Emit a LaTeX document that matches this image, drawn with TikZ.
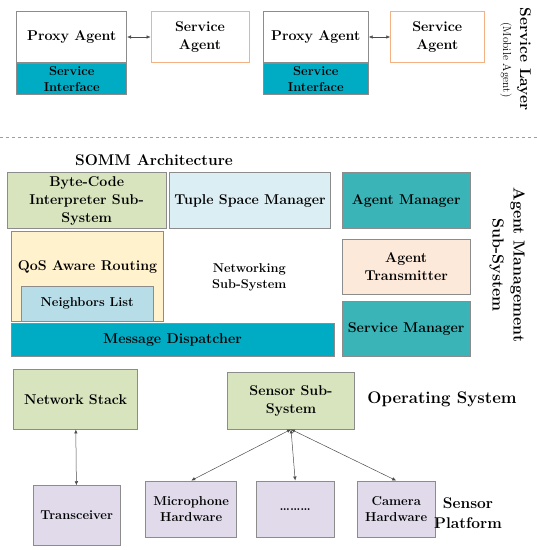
\documentclass[tikz,border=0pt]{standalone}
\usepackage{fontspec}
\usepackage{tikz}
\usetikzlibrary{positioning, arrows.meta}

\definecolor{boxline}{HTML}{8C8C8C}
\definecolor{ifteal}{HTML}{00ACC4}
\definecolor{amteal}{HTML}{3BB4B7}
\definecolor{bcgreen}{HTML}{D7E4BD}
\definecolor{tsblue}{HTML}{DBEEF4}
\definecolor{qosyellow}{HTML}{FFF2CC}
\definecolor{nlblue}{HTML}{B7DEE8}
\definecolor{atpeach}{HTML}{FDE9D9}
\definecolor{hwlilac}{HTML}{E0DAEB}
\definecolor{saorange}{HTML}{F4B183}
\definecolor{dashpink}{HTML}{D4849A}

\tikzset{
    box/.style = {draw=boxline, line width=0.8pt, align=center, inner sep=0pt,
                  font=\bfseries\fontsize{14.2}{18}\selectfont},
    smallbox/.style = {box, font=\bfseries\fontsize{12.9}{16}\selectfont},
    title/.style = {align=center, font=\bfseries\fontsize{15.5}{19}\selectfont},
    link/.style = {arrows={Latex[length=4pt, width=3.5pt]-Latex[length=4pt, width=3.5pt]}, draw=black!70, line width=0.5pt}
}

\begin{document}
\begin{tikzpicture}[x=1pt, y=-1pt]
    \useasboundingbox (0,0) rectangle (537,550);

    % service layer
    \node[box, minimum width=110pt, minimum height=50.6pt, fill=white] (pa1) at (71.7,37) {Proxy Agent};
    \node[smallbox, minimum width=110pt, minimum height=31pt, fill=ifteal, below=0pt of pa1] (si1) {Service\\Interface};
    \node[box, draw=saorange, minimum width=98pt, minimum height=50.6pt] (sa1) at (200,37) {Service\\Agent};
    \node[box, minimum width=105pt, minimum height=50.6pt, fill=white] (pa2) at (315.8,37) {Proxy Agent};
    \node[smallbox, minimum width=105pt, minimum height=31pt, fill=ifteal, below=0pt of pa2] (si2) {Service\\Interface};
    \node[box, draw=saorange, minimum width=93.3pt, minimum height=50.6pt] (sa2) at (437.3,37) {Service\\Agent};
    \node[title, rotate=-90] (sl) at (524,59) {Service Layer};
    \node[font=\fontsize{11.5}{13}\selectfont, rotate=-90] (ma) at (506,60) {(Mobile Agent)};

    \draw[link] (pa1) -- (sa1);
    \draw[link] (pa2) -- (sa2);

    \draw[dashpink, dashed, line width=0.8pt] (0,137.3) -- (537,137.3);

    % SOMM
    \node[title] (somm) at (154,160) {SOMM Architecture};
    \node[box, fill=bcgreen, minimum width=158.7pt, minimum height=55.6pt] (bc) at (86.7,200.5) {Byte-Code\\Interpreter Sub-\\System};
    \node[box, fill=tsblue, minimum width=161.3pt, minimum height=55.6pt] (ts) at (250,200.5) {Tuple Space Manager};
    \node[box, fill=amteal, minimum width=127.7pt, minimum height=55.6pt] (am) at (406.2,200.5) {Agent Manager};
    \node[box, fill=qosyellow, minimum width=151.6pt, minimum height=90pt,
          label={[font=\bfseries\fontsize{14.2}{18}\selectfont, yshift=10pt]center:QoS Aware Routing}] (qos) at (87.5,276.7) {};
    \node[smallbox, fill=nlblue, minimum width=132.3pt, minimum height=35.7pt] (nl) at (87.2,303.8) {Neighbors List};
    \node[font=\bfseries\fontsize{12.8}{16}\selectfont, align=center] (nss) at (249.3,277) {Networking\\Sub-System};
    \node[box, fill=ifteal, minimum width=323pt, minimum height=33.4pt] (md) at (172.5,340) {Message Dispatcher};
    \node[box, fill=atpeach, minimum width=127.7pt, minimum height=55.3pt] (at) at (406.2,266.7) {Agent\\Transmitter};
    \node[box, fill=amteal, minimum width=127.7pt, minimum height=55.7pt] (sm) at (406.2,328.8) {Service Manager};
    \node[title, font=\bfseries\fontsize{16}{21}\selectfont, rotate=-90] (ams) at (507,265) {Agent Management\\Sub-System};

    % operating system and sensor platform
    \node[box, fill=bcgreen, minimum width=124.3pt, minimum height=59.7pt] (ns) at (75.5,399.2) {Network Stack};
    \node[box, fill=bcgreen, minimum width=126.7pt, minimum height=56.3pt] (ss) at (291,400.8) {Sensor Sub-\\System};
    \node[title, font=\bfseries\fontsize{16.8}{19}\selectfont] (os) at (442,399) {Operating System};
    \node[smallbox, fill=hwlilac, minimum width=86.7pt, minimum height=59.3pt] (tr) at (76.7,515.3) {Transceiver};
    \node[smallbox, fill=hwlilac, minimum width=91pt, minimum height=56.7pt] (mh) at (191.2,509.3) {Microphone\\Hardware};
    \node[smallbox, fill=hwlilac, minimum width=78.3pt, minimum height=56.7pt] (dt) at (295.2,509.3) {\dots\dots\dots};
    \node[smallbox, fill=hwlilac, minimum width=77.7pt, minimum height=56.7pt] (ch) at (396.2,509.3) {Camera\\Hardware};
    \node[title, font=\bfseries\fontsize{15.5}{20}\selectfont] (sp) at (468,513) {Sensor\\Platform};

    \draw[link] (ns) -- (tr);
    \draw[link] (ss.south) -- (mh.north);
    \draw[link] (ss.south) -- (dt.north);
    \draw[link] (ss.south) -- (ch.north);
\end{tikzpicture}
\end{document}
